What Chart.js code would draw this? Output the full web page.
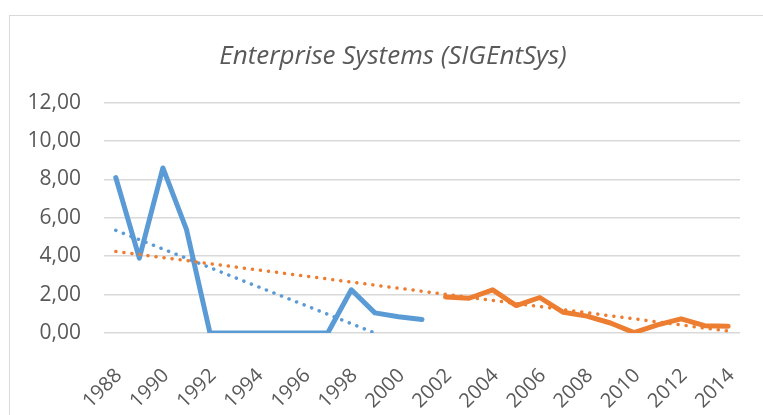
<!DOCTYPE html>
<html>
<head>
<meta charset="utf-8">
<script src="https://cdn.jsdelivr.net/npm/chart.js@4"></script>
<style>
  html, body { margin: 0; padding: 0; background: #fff; overflow: hidden; }
  #frame {
    position: absolute; left: 9px; top: 15px; width: 900px; height: 600px;
    border: 1.5px solid #d9d9d9; box-sizing: border-box;
  }
  #wrap { position: absolute; left: 0; top: 0; width: 763px; height: 415px; }
</style>
</head>
<body>
<div id="frame"></div>
<div id="wrap"><canvas id="chart" width="763" height="415"></canvas></div>
<script>
const years = [
  '1988', '1989', '1990', '1991', '1992', '1993', '1994', '1995', '1996',
  '1997', '1998', '1999', '2000', '2001', '2002', '2003', '2004', '2005',
  '2006', '2007', '2008', '2009', '2010', '2011', '2012', '2013', '2014',
];

// first period (blue) 1988-2001
const blueValues = [
  8.1, 3.9, 8.6, 5.4, 0, 0, 0, 0, 0, 0, 2.25, 1.05, 0.85, 0.7,
  null, null, null, null, null, null, null, null, null, null, null, null, null,
];

// second period (orange) 2002-2014
const orangeValues = [
  null, null, null, null, null, null, null, null, null, null, null, null, null, null,
  1.88, 1.81, 2.25, 1.43, 1.85, 1.08, 0.88, 0.52, 0.02, 0.42, 0.74, 0.38, 0.35,
];

// trend line end points
const blueTrend = [
  5.35, null, null, null, null, null, null, null, null, null, null, 0.0,
  null, null, null, null, null, null, null, null, null, null, null, null, null, null, null,
];
const orangeTrend = [
  4.25, null, null, null, null, null, null, null, null, null, null, null, null, null,
  null, null, null, null, null, null, null, null, null, null, null, null, 0.1,
];

const yTicks = [0, 2, 4, 6, 8, 10, 12];

const BLUE = '#5b9bd5';
const ORANGE = '#ed7d31';
const TEXT = '#595959';
const FONT = "'Open Sans', sans-serif";

const mainLine = (data, color) => ({
  data,
  borderColor: color,
  borderWidth: 5,
  borderJoinStyle: 'round',
  borderCapStyle: 'round',
  pointRadius: 0,
  tension: 0,
  spanGaps: false,
});

const trendLine = (data, color) => ({
  data,
  borderColor: color,
  borderWidth: 3.5,
  borderDash: [0.1, 8],
  borderCapStyle: 'round',
  pointRadius: 0,
  tension: 0,
  spanGaps: true,
});

// the title is centred on the whole frame, which runs past the right edge
const shiftTitle = {
  id: 'shiftTitle',
  afterLayout(chart) {
    if (chart.titleBlock) chart.titleBlock.left += 46;
  },
};

new Chart(document.querySelector('#chart'), {
  type: 'line',
  data: {
    labels: years,
    datasets: [
      trendLine(orangeTrend, ORANGE),
      trendLine(blueTrend, BLUE),
      mainLine(blueValues, BLUE),
      mainLine(orangeValues, ORANGE),
    ],
  },
  plugins: [shiftTitle],
  options: {
    responsive: false,
    animation: false,
    events: [],
    layout: { padding: { left: 0, right: 23, top: 0, bottom: 0 } },
    plugins: {
      legend: { display: false },
      tooltip: { enabled: false },
      title: {
        display: true,
        text: 'Enterprise Systems (SIGEntSys)',
        color: TEXT,
        font: { family: FONT, size: 26, style: 'italic', weight: 'normal', lineHeight: 1.2 },
        padding: { top: 40.5, bottom: 31 },
      },
    },
    scales: {
      x: {
        offset: true,
        grid: { display: false },
        border: { display: false },
        ticks: {
          autoSkip: false,
          maxRotation: 45,
          minRotation: 45,
          padding: 23,
          labelOffset: 3,
          color: TEXT,
          font: { family: FONT, size: 20 },
          callback: function (value, index) {
            return index % 2 === 0 ? this.getLabelForValue(value) : '';
          },
        },
        afterFit: (scale) => {
          scale.height = 82;
          scale.paddingLeft = 0;
          scale.paddingRight = 0;
        },
      },
      y: {
        min: 0,
        max: 12,
        afterBuildTicks: (scale) => {
          scale.ticks = yTicks.map((v) => ({ value: v }));
        },
        grid: { color: '#d9d9d9', lineWidth: 1.5, drawTicks: false },
        border: { display: false },
        ticks: {
          padding: 23,
          color: TEXT,
          font: { family: FONT, size: 21 },
          callback: (v) => v.toFixed(2).replace('.', ','),
        },
        afterFit: (scale) => { scale.width = 104; },
      },
    },
  },
});
</script>
</body>
</html>
